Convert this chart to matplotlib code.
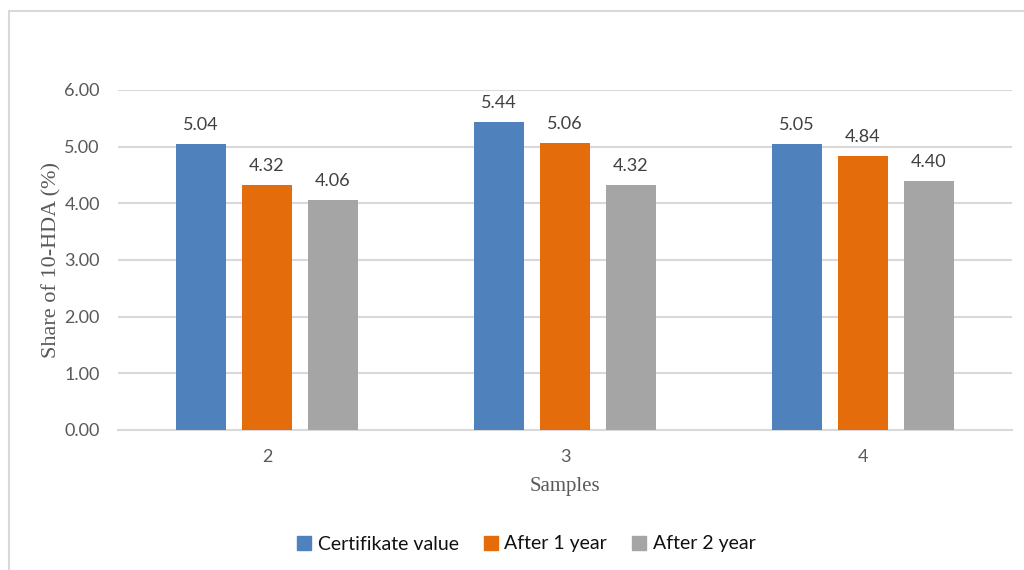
import matplotlib
matplotlib.use('Agg')
import matplotlib.pyplot as plt
from matplotlib.patches import Rectangle
from matplotlib.lines import Line2D
import numpy as np

plt.rcParams['font.family'] = 'Lato'

samples = ['2', '3', '4']
series = ['Certifikate value', 'After 1 year', 'After 2 year']
certificate = [5.04, 5.44, 5.05]
after_1_year = [4.32, 5.06, 4.84]
after_2_year = [4.06, 4.32, 4.40]
colors = ['#4F81BD', '#E46C0A', '#A5A5A5']

fig = plt.figure(figsize=(10.24, 5.70), dpi=100)
ax = fig.add_axes([118/1024, 1-430/570, (1012-118)/1024, (430-90)/570])

# outer chart frame, right and bottom edges run off the canvas
fig.patches.append(Rectangle((9/1024, -0.1), 1.2, 1-11/570+0.1, transform=fig.transFigure,
                             fill=False, edgecolor='#D9D9D9', linewidth=1.5))

x = np.arange(len(samples))
width = 0.171
step = 0.2215
for i, (name, values) in enumerate(zip(series, [certificate, after_1_year, after_2_year])):
    pos = x + (i - 1) * step
    ax.bar(pos, values, width=width, color=colors[i], label=name, zorder=3)
    for px, v in zip(pos, values):
        ax.annotate(f'{v:.2f}', (px, v), xytext=(0, 8), textcoords='offset points',
                    ha='center', va='bottom', fontsize=13, color='#404040')

ax.set_xlim(-0.5, len(samples) - 0.5)
ax.set_ylim(0, 6)
ax.set_yticks(np.arange(0, 7, 1))
ax.yaxis.set_major_formatter(matplotlib.ticker.FormatStrFormatter('%.2f'))
ax.set_xticks(x)
ax.set_xticklabels(samples)
ax.tick_params(length=0, labelsize=13, labelcolor='#595959')
ax.tick_params(axis='y', pad=13)
ax.tick_params(axis='x', pad=14)
ax.grid(axis='y', color='#D9D9D9', linewidth=1.5, zorder=0)
for side in ['top', 'right', 'left']:
    ax.spines[side].set_visible(False)
ax.spines['bottom'].set_color('#D9D9D9')
ax.spines['bottom'].set_linewidth(1.5)

ax.set_ylabel('Share of 10-HDA (%)', family='Liberation Serif', fontsize=16, color='#595959')
ax.set_xlabel('Samples', family='Liberation Serif', fontsize=15, color='#595959')
ax.yaxis.set_label_coords(-66/894, 0.5)
ax.yaxis.label.set_va('center')
ax.xaxis.set_label_coords(0.5, -57/340)
ax.xaxis.label.set_va('center')

handles = [Line2D([], [], marker='s', linestyle='none', markersize=9.5, color=c) for c in colors]
fig.legend(handles, series, loc='center', bbox_to_anchor=(526/1024, 1-544/570), ncol=3,
           frameon=False, fontsize=14, handlelength=0.8, handletextpad=0.3, columnspacing=1.25,
           labelcolor='#111111')

fig.savefig('out.png', dpi=100)
